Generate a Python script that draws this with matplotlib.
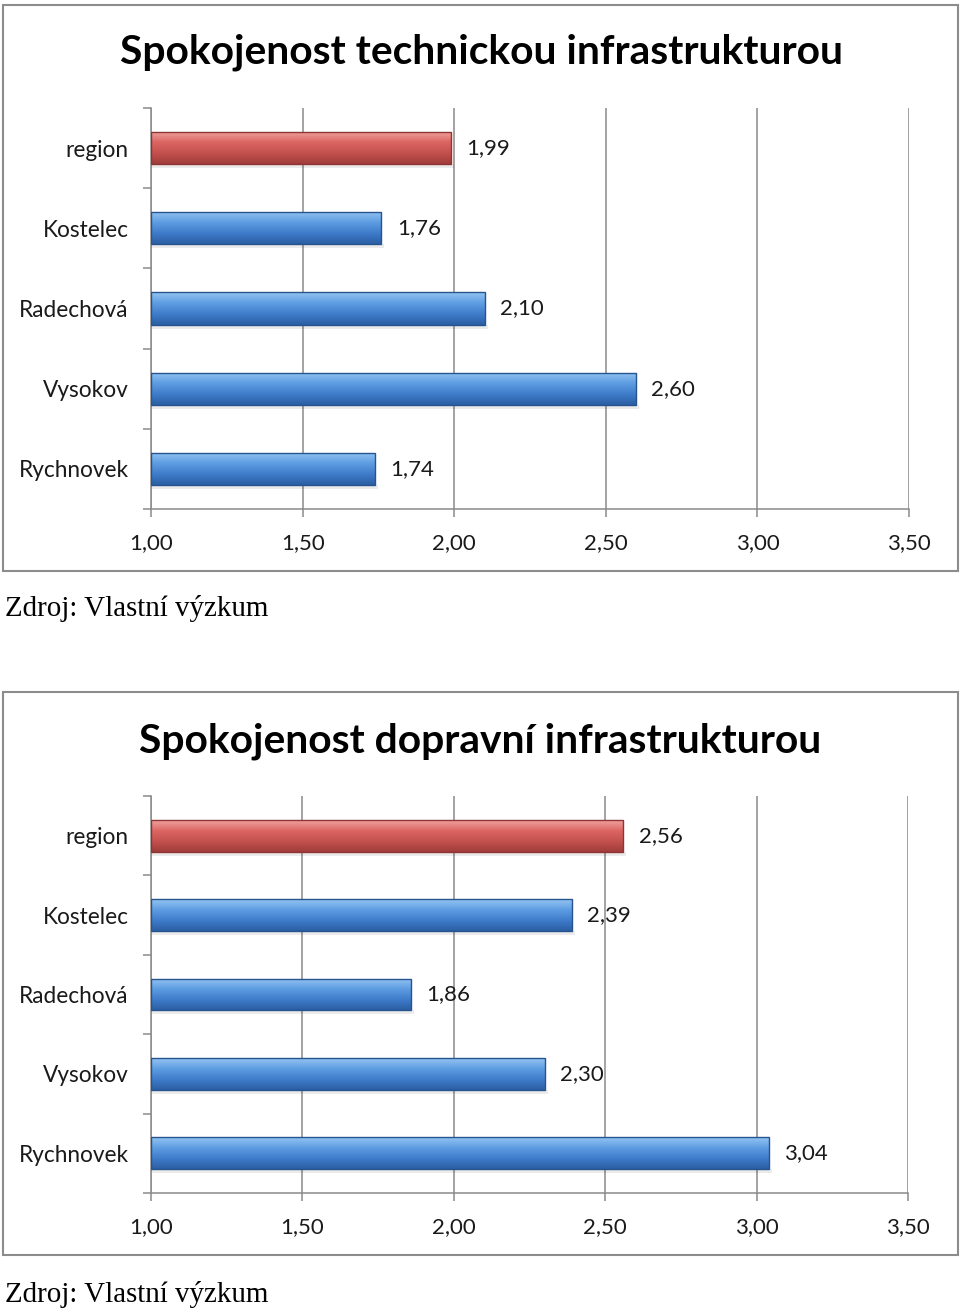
import matplotlib.pyplot as plt
import matplotlib.patches as mpatches
import numpy as np
from matplotlib.colors import LinearSegmentedColormap

# Data
kategorie = ['region', 'Kostelec', 'Radechová', 'Vysokov', 'Rychnovek']
technicka = [1.99, 1.76, 2.10, 2.60, 1.74]
dopravni = [2.56, 2.39, 1.86, 2.30, 3.04]
x_ticks = [1.00, 1.50, 2.00, 2.50, 3.00, 3.50]

titulky = ['Spokojenost technickou infrastrukturou', 'Spokojenost dopravní infrastrukturou']
zdroj = 'Zdroj: Vlastní výzkum'

modra = LinearSegmentedColormap.from_list('modra', ['#94C4F2', '#5E9DE2', '#3F7CCB', '#2C5FA4'])
cervena = LinearSegmentedColormap.from_list('cervena', ['#EFA3A0', '#DC6562', '#C4514E', '#A03C3A'])

SANS = ['Lato', 'DejaVu Sans']
GRID = '#8A8A8A'


def fmt(v):
    return f'{v:.2f}'.replace('.', ',')


def nakresli(ax, hodnoty):
    n = len(kategorie)
    y = np.arange(n)[::-1]
    h = 0.4
    grad = np.linspace(0, 1, 64).reshape(-1, 1)
    bars = ax.barh(y, np.array(hodnoty) - 1.0, left=1.0, height=h,
                   color='none', edgecolor='none', zorder=3)
    for i, (b, v) in enumerate(zip(bars, hodnoty)):
        cmap = cervena if i == 0 else modra
        edge = '#8E3432' if i == 0 else '#25548F'
        yy = y[i]
        # slabý stín pod sloupcem
        ax.add_patch(mpatches.Rectangle((1.0, yy - h / 2 - 0.05), v - 1.0 + 0.01, 0.05,
                                        color='#000000', alpha=0.08, lw=0, zorder=2))
        im = ax.imshow(grad, cmap=cmap, aspect='auto', origin='upper',
                       extent=[1.0, v, yy - h / 2, yy + h / 2], zorder=3)
        im.set_clip_path(b)
        ax.add_patch(mpatches.Rectangle((1.0, yy - h / 2), v - 1.0, h, fill=False,
                                        edgecolor=edge, lw=1.0, zorder=4))
        ax.annotate(fmt(v), (v, yy), xytext=(11, 0), textcoords='offset points',
                    va='center', ha='left', fontsize=16, family=SANS, color='#1a1a1a')

    ax.set_xlim(1.0, 3.5)
    ax.set_ylim(-0.5, n - 0.5)
    ax.set_xticks(x_ticks)
    ax.set_xticklabels([fmt(t) for t in x_ticks], fontsize=16, family=SANS, color='#1a1a1a')
    ax.set_yticks(y)
    ax.set_yticklabels(kategorie, fontsize=16.3, family=SANS, color='#1a1a1a')
    ax.set_yticks(np.arange(-0.5, n, 1.0), minor=True)
    ax.tick_params(axis='y', which='major', length=0, pad=16)
    ax.tick_params(axis='y', which='minor', length=6, width=1.1, color=GRID)
    ax.tick_params(axis='x', which='major', length=6, width=1.1, color=GRID, pad=11)
    ax.xaxis.grid(True, color=GRID, lw=1.1, zorder=1)
    ax.set_axisbelow(True)
    for s in ['top', 'right']:
        ax.spines[s].set_visible(False)
    for s in ['left', 'bottom']:
        ax.spines[s].set_color(GRID)
        ax.spines[s].set_linewidth(1.1)


fig = plt.figure(figsize=(9.6, 13.13), dpi=100)
W, H = 960, 1313

# rámečky grafů
for (top, bottom) in [(5, 571), (692, 1255)]:
    fig.patches.append(mpatches.Rectangle((3 / W, 1 - bottom / H), 955 / W, (bottom - top) / H,
                                          transform=fig.transFigure, fill=False,
                                          edgecolor='#8C8C8C', lw=1.5))

ax1 = fig.add_axes([151 / W, 1 - 509 / H, 758 / W, 401 / H])
nakresli(ax1, technicka)
ax2 = fig.add_axes([151 / W, 1 - 1193 / H, 757 / W, 397 / H])
nakresli(ax2, dopravni)

fig.text(481 / W, 1 - 52 / H, titulky[0], ha='center', va='center', fontsize=29.3,
         fontweight='bold', family=SANS)
fig.text(480 / W, 1 - 741 / H, titulky[1], ha='center', va='center', fontsize=29.3,
         fontweight='bold', family=SANS)
fig.text(5 / W, 1 - 609 / H, zdroj, ha='left', va='center', fontsize=20.9,
         family=['Liberation Serif', 'DejaVu Serif'])
fig.text(5 / W, 1 - 1294 / H, zdroj, ha='left', va='center', fontsize=20.9,
         family=['Liberation Serif', 'DejaVu Serif'])

fig.savefig('out.png', dpi=100)
